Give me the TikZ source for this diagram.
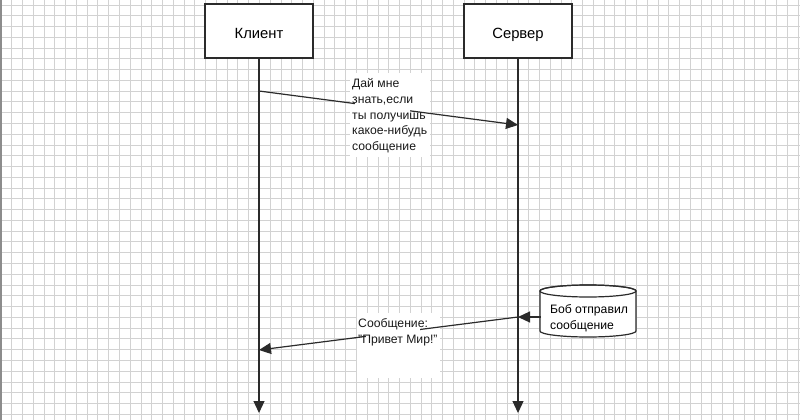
\documentclass[tikz,border=0pt]{standalone}
\usepackage{fontspec}
\setmainfont{Liberation Sans}
\usetikzlibrary{arrows.meta}
\definecolor{ink}{HTML}{2B2B2B}
\definecolor{gridc}{HTML}{D2D2D2}
\begin{document}
\begin{tikzpicture}[x=1pt,y=-1pt,
  gridline/.style={draw=gridc, line width=0.9pt},
  lbox/.style={draw=ink, fill=white, line width=1.2pt, minimum width=108pt, minimum height=54pt, inner sep=0pt, text height=14pt, text depth=0pt, font=\fontsize{14.8}{17}\selectfont},
  conn/.style={draw=ink, line width=1.2pt, -{Triangle[length=12pt,width=11pt]}},
  lbl/.style={inner sep=0pt, align=left, font=\fontsize{12.2}{15.9}\selectfont, anchor=north west, text=black!90},
  patch/.style={fill=white, draw=none}]
\useasboundingbox (0,0) rectangle (800,420);
\fill[white] (0,0) rectangle (800,420);
% grid
\foreach \i in {1,...,74} \draw[gridline] ({1+\i*10.77},0) -- ({1+\i*10.77},420);
\foreach \j in {0,...,38} \draw[gridline] (0,{5+\j*10.77}) -- (800,{5+\j*10.77});
\draw[draw=black!45, line width=1.6pt] (0.8,0) -- (0.8,420);
% white patches behind labels
\fill[patch] (350,73) rectangle (430,157);
\fill[patch] (357,313) rectangle (440,378);
% lifeline heads
\node[lbox] (client) at (259,31) {Клиент};
\node[lbox] (server) at (518,31) {Сервер};
\coordinate (cend) at (259,413);
\coordinate (send) at (518,413);
\draw[conn] (client) -- (cend);
\draw[conn] (server) -- (send);
% message 1
\coordinate (c1) at (259,91);
\coordinate (s1) at (518,125);
\draw[conn] (c1) -- (s1);
% cylinder
\filldraw[draw=ink, fill=white, line width=1.2pt] (540,291) -- (540,331) arc[start angle=180, end angle=360, x radius=48pt, y radius=6pt] -- (636,291) arc[start angle=0, end angle=180, x radius=48pt, y radius=6pt] -- cycle;
\draw[draw=ink, line width=1.2pt] (588,291) ellipse [x radius=48pt, y radius=6pt];
\node[minimum width=96pt, minimum height=36pt, inner sep=0pt, align=left, font=\fontsize{12.2}{15.9}\selectfont] (bob) at (589,318.5) {Боб отправил\\сообщение};
% message 2
\coordinate (s2) at (518,317);
\coordinate (c2) at (259,350);
\draw[conn] (bob.west |- s2) -- (s2);
\draw[conn] (s2) -- (c2);
% partial covers over the arrows behind the labels
\fill[patch] (355,100) rectangle (410,114);
\fill[patch] (366,326) rectangle (420,341);
% labels
\node[lbl] (l1) at (352,78) {Дай мне\\знать,если\\ты получишь\\какое-нибудь\\сообщение};
\node[lbl] (l2) at (358,318) {Сообщение:\\"Привет Мир!"};
\end{tikzpicture}
\end{document}
